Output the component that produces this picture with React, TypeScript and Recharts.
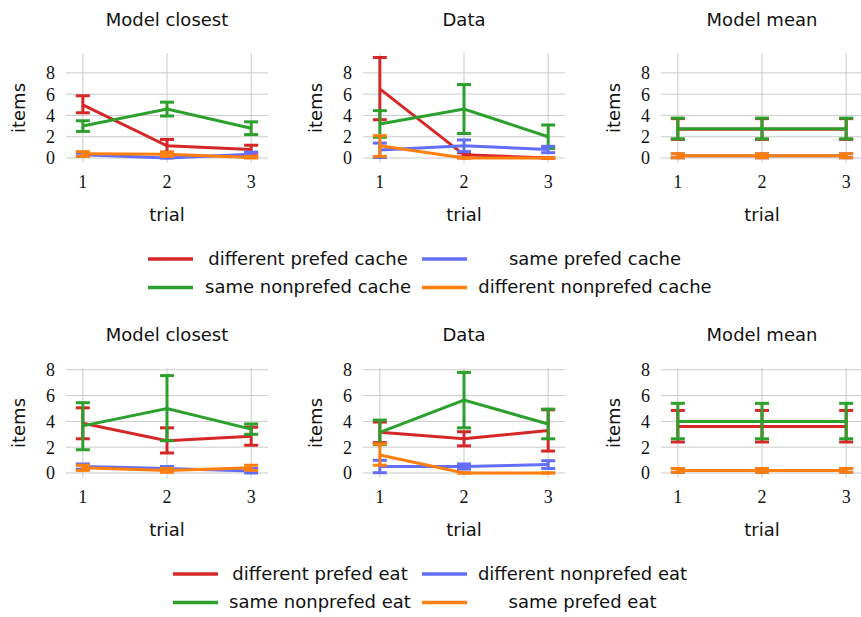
import React from "react";
import { LineChart, Line, XAxis, YAxis, CartesianGrid, ErrorBar } from "recharts";

// ---------- data ----------
const TRIALS = [1, 2, 3];
const X_TICKS = [1, 2, 3];
const Y_TICKS = [0, 2, 4, 6, 8];
const PANEL_TITLES = ["Model closest", "Data", "Model mean"];
const CACHE_SERIES = ["different prefed cache", "same nonprefed cache", "same prefed cache", "different nonprefed cache"];
const EAT_SERIES = ["different prefed eat", "same nonprefed eat", "different nonprefed eat", "same prefed eat"];
const SERIES_COLORS = ["#d62728", "#2ca02c", "#636efa", "#ff7f0e"];

// cache row (series order: red, green, blue, orange)
const cacheClosestMean = [[5.0, 1.15, 0.8], [3.0, 4.6, 2.8], [0.3, 0.0, 0.35], [0.4, 0.35, 0.05]];
const cacheClosestLow = [[4.25, 0.55, 0.45], [2.5, 3.95, 2.2], [0.15, 0.0, 0.15], [0.15, 0.15, 0.0]];
const cacheClosestHigh = [[5.85, 1.75, 1.2], [3.5, 5.25, 3.4], [0.45, 0.1, 0.55], [0.6, 0.55, 0.15]];

const cacheDataMean = [[6.5, 0.3, 0.0], [3.2, 4.6, 2.0], [0.75, 1.15, 0.8], [1.15, 0.0, 0.0]];
const cacheDataLow = [[3.6, 0.1, 0.0], [1.95, 2.3, 0.9], [0.05, 0.6, 0.5], [0.15, 0.0, 0.0]];
const cacheDataHigh = [[9.45, 0.5, 0.0], [4.45, 6.9, 3.1], [1.4, 1.7, 1.1], [2.1, 0.0, 0.0]];

const cacheMeanMean = [[2.7, 2.7, 2.7], [2.75, 2.75, 2.75], [0.2, 0.2, 0.2], [0.2, 0.2, 0.2]];
const cacheMeanLow = [[1.75, 1.75, 1.75], [1.8, 1.8, 1.8], [0.02, 0.02, 0.02], [0.02, 0.02, 0.02]];
const cacheMeanHigh = [[3.7, 3.7, 3.7], [3.75, 3.75, 3.75], [0.4, 0.4, 0.4], [0.4, 0.4, 0.4]];

// eat row (series order: red, green, blue, orange)
const eatClosestMean = [[3.85, 2.5, 2.85], [3.65, 5.0, 3.4], [0.5, 0.35, 0.15], [0.4, 0.2, 0.4]];
const eatClosestLow = [[2.65, 1.55, 2.15], [1.8, 2.5, 3.0], [0.3, 0.2, 0.0], [0.2, 0.05, 0.2]];
const eatClosestHigh = [[5.05, 3.5, 3.55], [5.45, 7.55, 3.8], [0.7, 0.5, 0.35], [0.6, 0.35, 0.6]];

const eatDataMean = [[3.15, 2.65, 3.3], [3.15, 5.65, 3.8], [0.5, 0.5, 0.65], [1.4, 0.0, 0.0]];
const eatDataLow = [[2.35, 2.1, 1.7], [2.2, 3.5, 2.65], [0.02, 0.3, 0.35], [0.6, 0.0, 0.0]];
const eatDataHigh = [[3.95, 3.2, 4.9], [4.1, 7.8, 4.95], [0.98, 0.7, 0.95], [2.25, 0.0, 0.0]];

const eatMeanMean = [[3.6, 3.6, 3.6], [4.0, 4.0, 4.0], [0.2, 0.2, 0.2], [0.2, 0.2, 0.2]];
const eatMeanLow = [[2.4, 2.4, 2.4], [2.65, 2.65, 2.65], [0.05, 0.05, 0.05], [0.05, 0.05, 0.05]];
const eatMeanHigh = [[4.85, 4.85, 4.85], [5.4, 5.4, 5.4], [0.35, 0.35, 0.35], [0.35, 0.35, 0.35]];

const CACHE_Y_DOMAIN: [number, number] = [-0.47, 9.87];
const EAT_Y_DOMAIN: [number, number] = [-0.39, 8.14];

// ---------- layout ----------
const PLOT_LEFTS = [66, 363, 661];
const PLOT_W = 202;
const PLOT_H = 110;
const ROW_TOPS = [53, 368];
const Y_AXIS_W = 60;
const X_AXIS_H = 30;
const M_TOP = 10;
const M_RIGHT = 10;

const SANS = "'DejaVu Sans', sans-serif";
const SERIF = "'Liberation Serif', serif";

function makeRows(mean: number[][], low: number[][], high: number[][]) {
  return TRIALS.map((t, i) => {
    const row: any = { trial: t };
    mean.forEach((s, k) => {
      row["s" + k] = s[i];
      row["e" + k] = [Math.max(0, s[i] - low[k][i]), Math.max(0, high[k][i] - s[i])];
    });
    return row;
  });
}

const ROWS = [
  {
    domain: CACHE_Y_DOMAIN,
    names: CACHE_SERIES,
    panels: [
      makeRows(cacheClosestMean, cacheClosestLow, cacheClosestHigh),
      makeRows(cacheDataMean, cacheDataLow, cacheDataHigh),
      makeRows(cacheMeanMean, cacheMeanLow, cacheMeanHigh),
    ],
  },
  {
    domain: EAT_Y_DOMAIN,
    names: EAT_SERIES,
    panels: [
      makeRows(eatClosestMean, eatClosestLow, eatClosestHigh),
      makeRows(eatDataMean, eatDataLow, eatDataHigh),
      makeRows(eatMeanMean, eatMeanLow, eatMeanHigh),
    ],
  },
];

function Panel({ rows, domain, names, left, top }: any) {
  return (
    <div style={{ position: "absolute", left: left - Y_AXIS_W, top: top - M_TOP }}>
      <LineChart
        width={Y_AXIS_W + PLOT_W + M_RIGHT}
        height={M_TOP + PLOT_H + X_AXIS_H}
        data={rows}
        margin={{ top: M_TOP, right: M_RIGHT, bottom: 0, left: 0 }}
      >
        <CartesianGrid
          stroke="#cbcbcb"
          strokeWidth={1}
          horizontalValues={Y_TICKS}
          verticalValues={X_TICKS}
        />
        <XAxis
          dataKey="trial"
          type="number"
          domain={[0.8, 3.2]}
          ticks={X_TICKS}
          interval={0}
          allowDataOverflow
          axisLine={false}
          tickLine={false}
          tickSize={6}
          tickMargin={6}
          height={X_AXIS_H}
          tick={{ fill: "#111", fontSize: 18, fontFamily: SERIF }}
        />
        <YAxis
          type="number"
          domain={domain}
          ticks={Y_TICKS}
          interval={0}
          allowDataOverflow
          axisLine={false}
          tickLine={false}
          tickSize={6}
          tickMargin={5}
          width={Y_AXIS_W}
          tick={{ fill: "#111", fontSize: 18, fontFamily: SERIF }}
        />
        {names.map((n: string, k: number) => (
          <Line
            key={n}
            name={n}
            dataKey={"s" + k}
            type="linear"
            stroke={SERIES_COLORS[k]}
            strokeWidth={3}
            dot={false}
            activeDot={false}
            isAnimationActive={false}
          >
            <ErrorBar
              dataKey={"e" + k}
              direction="y"
              width={7}
              stroke={SERIES_COLORS[k]}
              strokeWidth={3}
              isAnimationActive={false}
            />
          </Line>
        ))}
      </LineChart>
    </div>
  );
}

function Legend({ names, lineY, lineX, textCenters }: any) {
  // names order: col1 row1, col1 row2, col2 row1, col2 row2
  const items = names.map((n: string, k: number) => {
    const col = k < 2 ? 0 : 1;
    const row = k % 2;
    return { n, k, col, row };
  });
  return (
    <g>
      {items.map(({ n, k, col, row }: any) => (
        <g key={n}>
          <line
            x1={lineX[col]}
            x2={lineX[col] + 45}
            y1={lineY[row]}
            y2={lineY[row]}
            stroke={SERIES_COLORS[k]}
            strokeWidth={3.5}
          />
          <text
            x={textCenters[col]}
            y={lineY[row] + 5.5}
            textAnchor="middle"
            fontFamily={SANS}
            fontSize={18}
            fill="#111"
          >
            {n}
          </text>
        </g>
      ))}
    </g>
  );
}

export default function App() {
  return (
    <div
      style={{
        position: "absolute",
        left: 0,
        top: 0,
        width: 861,
        height: 617,
        overflow: "hidden",
        background: "#fff",
      }}
    >
      {ROWS.map((r, ri) =>
        r.panels.map((rows, pi) => (
          <Panel
            key={ri + "-" + pi}
            rows={rows}
            domain={r.domain}
            names={r.names}
            left={PLOT_LEFTS[pi]}
            top={ROW_TOPS[ri]}
          />
        ))
      )}
      <svg
        width={861}
        height={617}
        style={{ position: "absolute", left: 0, top: 0, pointerEvents: "none" }}
      >
        {ROW_TOPS.map((top, ri) =>
          PLOT_LEFTS.map((left, pi) => (
            <g key={ri + "-" + pi}>
              <text
                x={left + PLOT_W / 2}
                y={top - 27}
                textAnchor="middle"
                fontFamily={SANS}
                fontSize={18}
                fill="#111"
              >
                {PANEL_TITLES[pi]}
              </text>
              <text
                x={left - 41}
                y={top + PLOT_H / 2}
                textAnchor="middle"
                fontFamily={SANS}
                fontSize={18}
                fill="#111"
                transform={`rotate(-90 ${left - 41} ${top + PLOT_H / 2})`}
              >
                items
              </text>
              <text
                x={left + PLOT_W / 2}
                y={top + PLOT_H + 58}
                textAnchor="middle"
                fontFamily={SANS}
                fontSize={18}
                fill="#111"
              >
                trial
              </text>
            </g>
          ))
        )}
        <Legend names={CACHE_SERIES} lineY={[259, 287.5]} lineX={[148, 422]} textCenters={[308, 595]} />
        <Legend names={EAT_SERIES} lineY={[574, 602.5]} lineX={[173, 422]} textCenters={[320, 582.5]} />
      </svg>
    </div>
  );
}
